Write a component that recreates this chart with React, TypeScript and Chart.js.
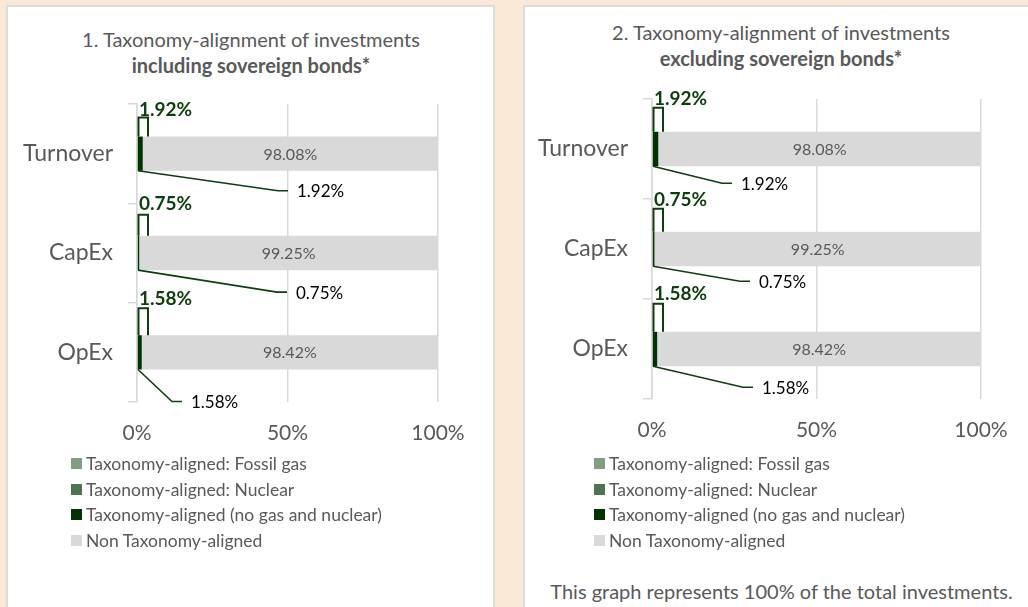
import React, { useEffect, useRef } from "react";
import { Chart, registerables } from "chart.js";

Chart.register(...registerables);

// ---------- data ----------
const categories = ["Turnover", "CapEx", "OpEx"];
const seriesNames = [
  "Taxonomy-aligned: Fossil gas",
  "Taxonomy-aligned: Nuclear",
  "Taxonomy-aligned (no gas and nuclear)",
  "Non Taxonomy-aligned",
];
// chart 1: including sovereign bonds
const fossilGas1 = [0, 0, 0];
const nuclear1 = [0, 0, 0];
const aligned1 = [1.92, 0.75, 1.58];
const nonAligned1 = [98.08, 99.25, 98.42];
// chart 2: excluding sovereign bonds
const fossilGas2 = [0, 0, 0];
const nuclear2 = [0, 0, 0];
const aligned2 = [1.92, 0.75, 1.58];
const nonAligned2 = [98.08, 99.25, 98.42];
const xTickValues = [0, 50, 100];

const title1 = "1. Taxonomy-alignment of investments";
const subtitle1 = "including sovereign bonds*";
const title2 = "2. Taxonomy-alignment of investments";
const subtitle2 = "excluding sovereign bonds*";
const footnote2 = "This graph represents 100% of the total investments.";

// ---------- styles ----------
const seriesColors = ["#7F9F80", "#4E7350", "#003300", "#D9D9D9"];
const FONT = "Lato";
const TEXT = "#595959";
const GREEN = "#0E3D0E";
const GRID = "#D9D9D9";

// label/leader offsets (px): dx,dy lower callout relative to bar start/bottom;
// h bracket height above bar; ly bold label offset above bar top
type Callout = { dx: number; dy: number; h: number; ly: number };
const callouts1: Callout[] = [
  { dx: 141, dy: 20, h: 19, ly: 27 },
  { dx: 140, dy: 22, h: 21, ly: 32 },
  { dx: 35, dy: 32, h: 27, ly: 36 },
];
const callouts2: Callout[] = [
  { dx: 70, dy: 17, h: 24, ly: 33 },
  { dx: 88, dy: 15, h: 23, ly: 32 },
  { dx: 91, dy: 21, h: 28, ly: 38 },
];

const fmt = (v: number) => v.toFixed(2) + "%";

function makeLabelPlugin(callouts: Callout[]) {
  return {
    id: "customLabels",
    afterDatasetsDraw(chart: any) {
      const ctx = chart.ctx;
      const xs = chart.scales.x;
      const x0 = xs.getPixelForValue(0);
      const metaAligned = chart.getDatasetMeta(2);
      const metaNon = chart.getDatasetMeta(3);
      const alignedData = chart.data.datasets[2].data as number[];
      const nonData = chart.data.datasets[3].data as number[];
      ctx.save();
      metaNon.data.forEach((bar: any, i: number) => {
        const p = bar.getProps(["x", "base", "y"], true);
        ctx.fillStyle = TEXT;
        ctx.font = `16px ${FONT}`;
        ctx.textAlign = "center";
        ctx.textBaseline = "middle";
        ctx.fillText(fmt(nonData[i]), (p.x + p.base) / 2, p.y + 1);
      });
      metaAligned.data.forEach((bar: any, i: number) => {
        const p = bar.getProps(["x", "base", "y", "height"], true);
        const top = p.y - p.height / 2;
        const bottom = p.y + p.height / 2;
        const c = callouts[i];
        // bracket above
        ctx.strokeStyle = GREEN;
        ctx.lineWidth = 2;
        ctx.beginPath();
        ctx.moveTo(x0 + 1.5, top);
        ctx.lineTo(x0 + 1.5, top - c.h);
        ctx.lineTo(x0 + 11, top - c.h);
        ctx.lineTo(x0 + 11, top);
        ctx.stroke();
        // bold label
        ctx.fillStyle = GREEN;
        ctx.font = `bold 19px ${FONT}`;
        ctx.textAlign = "left";
        ctx.textBaseline = "middle";
        ctx.fillText(fmt(alignedData[i]), x0 + 2, top - c.ly);
        // lower callout
        ctx.lineWidth = 1.6;
        ctx.beginPath();
        ctx.moveTo(x0 + 1, bottom);
        ctx.lineTo(x0 + c.dx, bottom + c.dy);
        ctx.lineTo(x0 + c.dx + 10, bottom + c.dy);
        ctx.stroke();
        ctx.fillStyle = "#000000";
        ctx.font = `17px ${FONT}`;
        ctx.fillText(fmt(alignedData[i]), x0 + c.dx + 19, bottom + c.dy + 1);
      });
      ctx.restore();
    },
  };
}

type ChartProps = {
  left: number;
  top: number;
  width: number;
  height: number;
  series: number[][];
  callouts: Callout[];
  yWidth: number;
  padRight: number;
  padBottom: number;
  padTop: number;
};

function BarChart(props: ChartProps) {
  const ref = useRef<HTMLCanvasElement | null>(null);
  useEffect(() => {
    if (!ref.current) return;
    Chart.defaults.font.family = FONT;
    const chart = new Chart(ref.current, {
      type: "bar",
      data: {
        labels: categories,
        datasets: props.series.map((d, i) => ({
          label: seriesNames[i],
          data: d,
          backgroundColor: seriesColors[i],
          borderWidth: 0,
          barPercentage: 0.345,
          categoryPercentage: 1,
        })),
      },
      options: {
        indexAxis: "y",
        responsive: false,
        maintainAspectRatio: false,
        animation: false,
        layout: { padding: { left: 0, right: props.padRight, top: props.padTop, bottom: props.padBottom } },
        plugins: {
          legend: { display: false },
          tooltip: { enabled: false },
          title: { display: false },
        },
        scales: {
          x: {
            stacked: true,
            min: 0,
            max: 100,
            afterBuildTicks: (s: any) => {
              s.ticks = xTickValues.map((v) => ({ value: v }));
            },
            ticks: {
              callback: (v: any) => v + "%",
              color: TEXT,
              font: { family: FONT, size: 21 },
              padding: 19,
              maxRotation: 0,
            },
            grid: { color: GRID, lineWidth: 1.5, drawTicks: false },
            border: { display: false },
            afterFit: (s: any) => {
              s.height = 50;
            },
          },
          y: {
            stacked: true,
            grid: {
              display: true,
              drawOnChartArea: false,
              drawTicks: true,
              tickLength: 9,
              offset: true,
              color: GRID,
              lineWidth: 1.5,
            },
            border: { display: true, color: GRID, width: 1.5 },
            ticks: { color: TEXT, font: { family: FONT, size: 23 }, padding: 15 },
            afterFit: (s: any) => {
              s.width = props.yWidth;
            },
          },
        },
      },
      plugins: [makeLabelPlugin(props.callouts)],
    } as any);
    return () => chart.destroy();
  }, []);
  return (
    <canvas
      ref={ref}
      width={props.width}
      height={props.height}
      style={{ position: "absolute", left: props.left, top: props.top, width: props.width, height: props.height }}
    />
  );
}

function Legend({ left, top }: { left: number; top: number }) {
  return (
    <div style={{ position: "absolute", left, top, fontFamily: FONT, fontSize: 17.5, color: TEXT }}>
      {seriesNames.map((n, i) => (
        <div key={n} style={{ display: "flex", alignItems: "center", height: 25.5, whiteSpace: "nowrap" }}>
          <span style={{ display: "inline-block", width: 11, height: 11, background: seriesColors[i], marginRight: 4 }} />
          <span>{n}</span>
        </div>
      ))}
    </div>
  );
}

function Title({ cx, y1, y2, line1, line2 }: { cx: number; y1: number; y2: number; line1: string; line2: string }) {
  const base: React.CSSProperties = {
    position: "absolute",
    left: cx - 300,
    width: 600,
    height: 24,
    lineHeight: "24px",
    textAlign: "center",
    fontFamily: FONT,
    fontSize: 20,
    color: TEXT,
    whiteSpace: "nowrap",
  };
  return (
    <>
      <div style={{ ...base, top: y1 - 12 }}>{line1}</div>
      <div style={{ ...base, top: y2 - 12, fontWeight: "bold" }}>{line2}</div>
    </>
  );
}

export default function App() {
  useEffect(() => {
    document.body.style.margin = "0";
  }, []);
  return (
    <div
      style={{
        position: "fixed",
        left: 0,
        top: 0,
        width: 1028,
        height: 607,
        overflow: "hidden",
        background: "#FAE9D7",
      }}
    >
      <div
        style={{
          position: "absolute",
          left: 6,
          top: 5,
          width: 489,
          height: 640,
          boxSizing: "border-box",
          background: "#FFFFFF",
          border: "2px solid #DCDCDC",
        }}
      />
      <div
        style={{
          position: "absolute",
          left: 523,
          top: 5,
          width: 540,
          height: 640,
          boxSizing: "border-box",
          background: "#FFFFFF",
          border: "2px solid #DCDCDC",
        }}
      />
      <Title cx={251} y1={39} y2={65} line1={title1} line2={subtitle1} />
      <Title cx={781} y1={32} y2={58} line1={title2} line2={subtitle2} />
      <BarChart
        left={7}
        top={7}
        width={488}
        height={453}
        series={[fossilGas1, nuclear1, aligned1, nonAligned1]}
        callouts={callouts1}
        yWidth={130}
        padRight={57}
        padBottom={8}
        padTop={97}
      />
      <BarChart
        left={525}
        top={7}
        width={513}
        height={453}
        series={[fossilGas2, nuclear2, aligned2, nonAligned2]}
        callouts={callouts2}
        yWidth={127}
        padRight={57}
        padBottom={11}
        padTop={92}
      />
      <Legend left={71} top={451} />
      <Legend left={594} top={451} />
      <div
        style={{
          position: "absolute",
          left: 525,
          width: 513,
          top: 579,
          height: 24,
          lineHeight: "24px",
          textAlign: "center",
          fontFamily: FONT,
          fontSize: 20,
          color: TEXT,
          whiteSpace: "nowrap",
        }}
      >
        {footnote2}
      </div>
    </div>
  );
}
